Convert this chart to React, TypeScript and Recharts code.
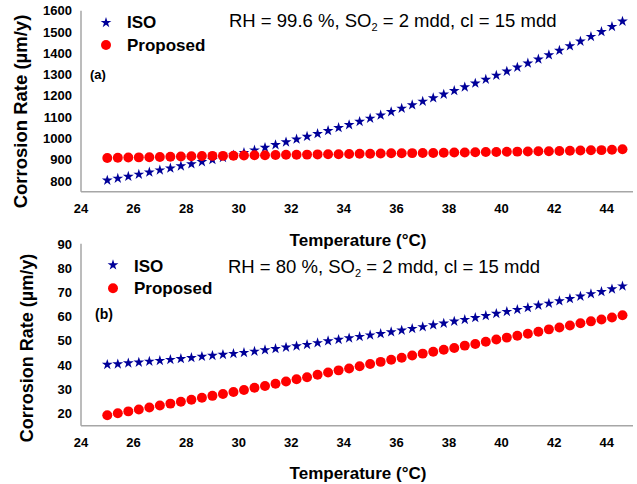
import React from "react";
import { ScatterChart, Scatter, XAxis, YAxis, Legend, Label, Symbols } from "recharts";

// temperatures (°C), shared by both panels
const temps = [
  25, 25.4, 25.8, 26.2, 26.6, 27, 27.4, 27.8, 28.2, 28.6,
  29, 29.4, 29.8, 30.2, 30.6, 31, 31.4, 31.8, 32.2, 32.6,
  33, 33.4, 33.8, 34.2, 34.6, 35, 35.4, 35.8, 36.2, 36.6,
  37, 37.4, 37.8, 38.2, 38.6, 39, 39.4, 39.8, 40.2, 40.6,
  41, 41.4, 41.8, 42.2, 42.6, 43, 43.4, 43.8, 44.2, 44.6,
];

// (a) RH = 99.6 %
const isoA = [
  803, 812, 821, 831, 841, 851, 860, 870, 880, 890,
  900, 910, 921, 933, 945, 957, 970, 983, 996, 1009,
  1022, 1036, 1050, 1064, 1079, 1094, 1109, 1125, 1141, 1157,
  1174, 1190, 1207, 1224, 1241, 1259, 1277, 1296, 1315, 1334,
  1353, 1372, 1392, 1413, 1434, 1456, 1478, 1501, 1525, 1550,
];
const proposedA = [
  908, 909, 910, 911, 912, 913, 914, 915, 916, 917,
  918, 918, 919, 920, 921, 921, 922, 923, 923, 924,
  925, 926, 926, 927, 928, 928, 929, 930, 930, 931,
  932, 932, 933, 934, 934, 935, 936, 936, 937, 938,
  939, 940, 940, 941, 942, 943, 944, 945, 947, 949,
];

// (b) RH = 80 %
const isoB = [
  40.2, 40.4, 40.8, 41.1, 41.5, 41.8, 42.2, 42.6, 43.0, 43.5,
  43.9, 44.3, 44.7, 45.1, 45.6, 46.2, 46.7, 47.3, 47.8, 48.4,
  49.1, 49.9, 50.5, 51.1, 51.7, 52.3, 52.9, 53.6, 54.3, 55.0,
  55.7, 56.5, 57.2, 58.0, 58.7, 59.5, 60.3, 61.2, 62.0, 62.8,
  63.6, 64.6, 65.4, 66.4, 67.3, 68.3, 69.3, 70.2, 71.3, 72.5,
];
const proposedB = [
  19.3, 20.1, 20.9, 21.7, 22.5, 23.3, 24.1, 24.9, 25.7, 26.5,
  27.3, 28.1, 28.9, 29.7, 30.6, 31.4, 32.3, 33.2, 34.1, 35.0,
  36.0, 36.9, 37.8, 38.6, 39.5, 40.4, 41.3, 42.2, 43.0, 43.9,
  44.7, 45.5, 46.3, 47.0, 48.0, 48.7, 49.6, 50.5, 51.3, 52.1,
  52.9, 53.7, 54.7, 55.5, 56.3, 57.2, 58.0, 58.8, 59.6, 60.5,
];

const xTicks = [24, 26, 28, 30, 32, 34, 36, 38, 40, 42, 44];
const yTicksA = [800, 900, 1000, 1100, 1200, 1300, 1400, 1500, 1600];
const yTicksB = [20, 30, 40, 50, 60, 70, 80, 90];

const FONT = "'Liberation Sans', Arial, sans-serif";
const STAR_COLOR = "#000099";
const DOT_COLOR = "#ff0000";
const AXIS_COLOR = "#a6a6a6";
const STAR_SIZE = 36;
const DOT_SIZE = 78;

const toPoints = (ys: number[]) => temps.map((t, i) => ({ t, v: ys[i] }));

const tickStyle = { fontSize: 13, fontWeight: "bold", fill: "#000", fontFamily: FONT };

const starShape = (props: any) => (
  <Symbols cx={props.cx} cy={props.cy} type="star" size={STAR_SIZE} fill={STAR_COLOR} />
);
const dotShape = (props: any) => (
  <Symbols cx={props.cx} cy={props.cy} type="circle" size={DOT_SIZE} fill={DOT_COLOR} />
);

type LegendPos = { iconX: number; rows: number[]; textX: number[]; base: number[] };

const makeLegend = (pos: LegendPos) => (props: any) => {
  const payload = props.payload || [];
  return (
    <svg width={637} height={70} style={{ display: "block", overflow: "visible" }}>
      {payload.map((entry: any, i: number) => (
        <g key={entry.value}>
          <Symbols
            cx={pos.iconX}
            cy={pos.rows[i]}
            type={entry.type === "star" ? "star" : "circle"}
            size={entry.type === "star" ? STAR_SIZE : DOT_SIZE}
            fill={entry.color}
          />
          <text x={pos.textX[i]} y={pos.base[i]} fontSize={17} fontWeight="bold" fontFamily={FONT} fill="#000">
            {entry.value}
          </text>
        </g>
      ))}
    </svg>
  );
};

type PanelProps = {
  top: number;
  height: number;
  margin: { top: number; right: number; bottom: number; left: number };
  yDomain: [number, number];
  yTicks: number[];
  iso: number[];
  proposed: number[];
  legend: LegendPos;
  tag: string;
  tagPos: [number, number, number];
  rh: string;
  notePos: [number, number];
  yTitlePos: [number, number, number];
  xTitleY: number;
};

function Panel(p: PanelProps) {
  return (
    <div style={{ position: "absolute", left: 0, top: p.top }}>
      <ScatterChart width={637} height={p.height} margin={p.margin}>
        <XAxis
          type="number"
          dataKey="t"
          domain={[24, 45]}
          ticks={xTicks}
          tickLine={false}
          tickSize={6}
          tickMargin={6}
          height={30}
          axisLine={{ stroke: AXIS_COLOR, strokeWidth: 1.5 }}
          tick={tickStyle}
        >
          <Label
            content={() => (
              <text x={358} y={p.xTitleY} textAnchor="middle" fontSize={17} fontWeight="bold" fontFamily={FONT} fill="#000">
                Temperature (°C)
              </text>
            )}
          />
        </XAxis>
        <YAxis
          type="number"
          dataKey="v"
          domain={p.yDomain}
          ticks={p.yTicks}
          tickLine={false}
          tickSize={6}
          tickMargin={3}
          width={60}
          axisLine={{ stroke: AXIS_COLOR, strokeWidth: 1.5 }}
          tick={tickStyle}
        >
          <Label
            content={() => (
              <g fontFamily={FONT} fill="#000">
                <text
                  transform={`translate(${p.yTitlePos[0]}, ${p.yTitlePos[1]}) rotate(-90)`}
                  textAnchor="middle"
                  fontSize={p.yTitlePos[2]}
                  fontWeight="bold"
                >
                  Corrosion Rate (µm/y)
                </text>
                <text x={p.tagPos[0]} y={p.tagPos[1]} fontSize={p.tagPos[2]} fontWeight="bold">
                  {p.tag}
                </text>
                <text x={p.notePos[0]} y={p.notePos[1]} fontSize={18.5}>
                  {`RH = ${p.rh} %, SO`}
                  <tspan fontSize={11} dy={4}>2</tspan>
                  <tspan dy={-4}>{" = 2 mdd, cl = 15 mdd"}</tspan>
                </text>
              </g>
            )}
          />
        </YAxis>
        <Legend
          layout="vertical"
          align="center"
          verticalAlign="middle"
          wrapperStyle={{ left: 0, top: 0, width: 637, height: 70 }}
          content={makeLegend(p.legend)}
        />
        <Scatter
          name=" ISO"
          data={toPoints(p.iso)}
          shape={starShape}
          legendType="star"
          fill={STAR_COLOR}
          isAnimationActive={false}
        />
        <Scatter
          name="Proposed"
          data={toPoints(p.proposed)}
          shape={dotShape}
          legendType="circle"
          fill={DOT_COLOR}
          isAnimationActive={false}
        />
      </ScatterChart>
    </div>
  );
}

export default function App() {
  return (
    <div style={{ position: "absolute", left: 0, top: 0, width: 637, height: 484, background: "#fff" }}>
      <Panel
        top={0}
        height={250}
        margin={{ top: 10.7, right: 4, bottom: 28.35, left: 21 }}
        yDomain={[750, 1600]}
        yTicks={yTicksA}
        iso={isoA}
        proposed={proposedA}
        legend={{ iconX: 106, rows: [22.7, 45], textX: [127, 127], base: [28.3, 51] }}
        tag="(a)"
        tagPos={[90, 79, 13]}
        rh="99.6"
        notePos={[229, 27]}
        yTitlePos={[26.5, 111.5, 18.5]}
        xTitleY={246}
      />
      <Panel
        top={236}
        height={248}
        margin={{ top: 7.7, right: 4, bottom: 28.3, left: 21 }}
        yDomain={[15, 90]}
        yTicks={yTicksB}
        iso={isoB}
        proposed={proposedB}
        legend={{ iconX: 113, rows: [29, 52.3], textX: [134, 134], base: [35.7, 58.3] }}
        tag="(b)"
        tagPos={[95, 83, 14]}
        rh="80"
        notePos={[228, 37.3]}
        yTitlePos={[33.3, 112, 18]}
        xTitleY={243}
      />
    </div>
  );
}
